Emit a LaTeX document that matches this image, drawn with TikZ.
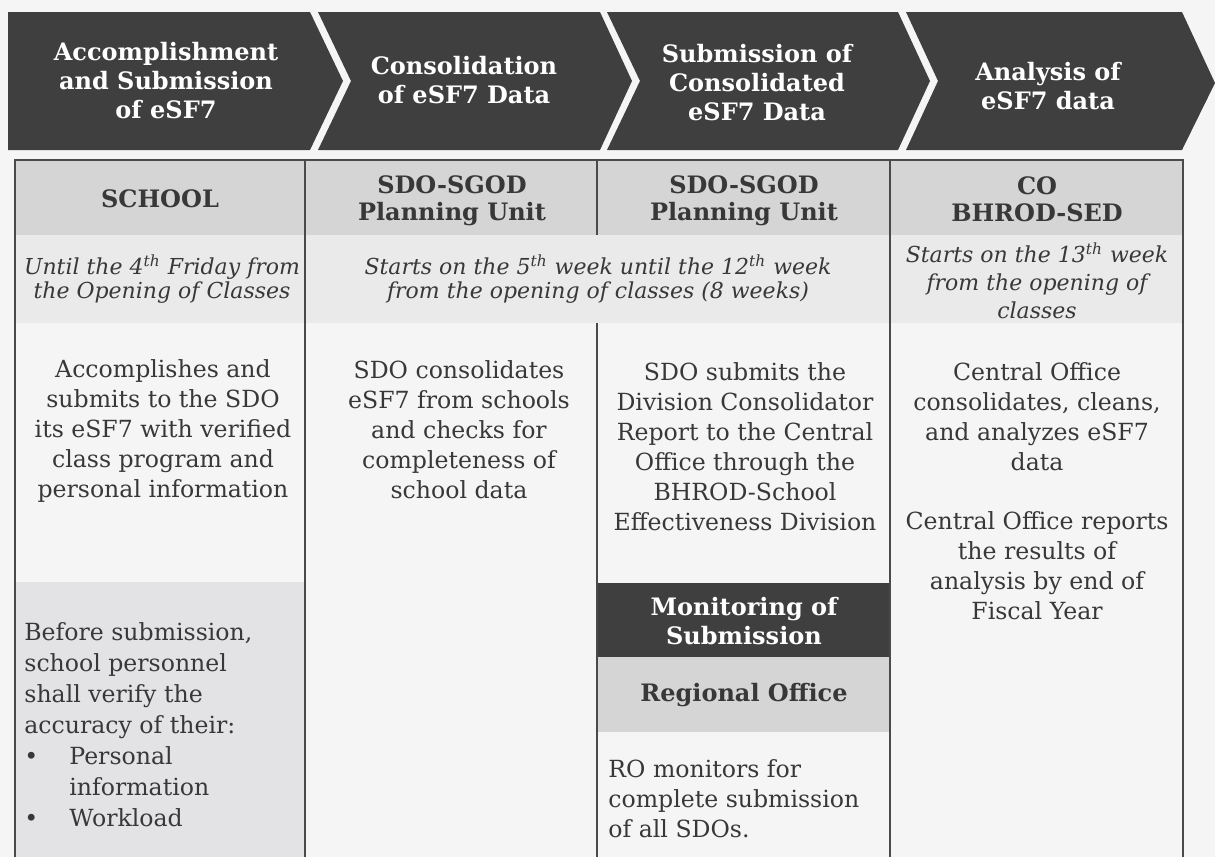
\documentclass[tikz,border=0pt]{standalone}
\usepackage{fontspec}
\setmainfont{DejaVu Serif}
\usepackage{xcolor}
\usepackage{tikz}

\definecolor{chevgray}{HTML}{3F3F3F}
\definecolor{headgray}{HTML}{D5D5D5}
\definecolor{rowgray}{HTML}{EAEAEA}
\definecolor{boxgray}{HTML}{E3E3E5}
\definecolor{inkgray}{HTML}{383838}
\definecolor{paper}{HTML}{F5F5F6}
\definecolor{rulegray}{HTML}{4A4A4A}

\begin{document}
\begin{tikzpicture}[x=0.5pt, y=-0.5pt,
  every node/.style={align=center, text=inkgray, inner sep=0pt,
    font=\fontsize{11.8}{15}\selectfont},
  chev/.style={fill=chevgray},
  chevtext/.style={text=white, font=\bfseries\fontsize{12}{14.5}\selectfont},
  unit/.style={font=\bfseries\fontsize{12}{13.5}\selectfont},
  when/.style={font=\itshape\fontsize{11}{12}\selectfont},
  leftbox/.style={align=left, anchor=north west},
  rule/.style={draw=rulegray, line width=1pt}
]
\useasboundingbox (0,0) rectangle (1215,857);
\fill[paper] (0,0) rectangle (1215,857);

% chevrons
\fill[chev] (8,12) -- (310,12) -- (343,81) -- (310,150) -- (8,150) -- cycle;
\fill[chev] (318,12) -- (600,12) -- (632,81) -- (600,150) -- (318,150) -- (351,81) -- cycle;
\fill[chev] (607,12) -- (898,12) -- (930,81) -- (898,150) -- (607,150) -- (640,81) -- cycle;
\fill[chev] (906,12) -- (1182,12) -- (1215,83) -- (1182,150) -- (906,150) -- (938,81) -- cycle;

\node[chevtext] (step1) at (166,81) {Accomplishment\\and Submission\\of eSF7};
\node[chevtext] (step2) at (464,80) {Consolidation\\of eSF7 Data};
\node[chevtext] (step3) at (757,83) {Submission of\\Consolidated\\eSF7 Data};
\node[chevtext] (step4) at (1048,86) {Analysis of\\eSF7 data};

% table shading
\fill[headgray] (15,160) rectangle (1183,235);
\fill[rowgray] (15,235) rectangle (1183,323);
\fill[boxgray] (15,582) rectangle (305,857);
\fill[chevgray] (597,583) rectangle (890,657);
\fill[headgray] (597,657) rectangle (890,732);

% table rules
\draw[rule] (15,857) -- (15,160) -- (1183,160) -- (1183,857);
\draw[rule] (305,160) -- (305,857);
\draw[rule] (597,160) -- (597,235);
\draw[rule] (597,323) -- (597,857);
\draw[rule] (890,160) -- (890,857);

% offices
\node[unit] (school) at (160,199) {SCHOOL};
\node[unit] (sdo1) at (452,201) {SDO-SGOD\\Planning Unit};
\node[unit] (sdo2) at (744,201) {SDO-SGOD\\Planning Unit};
\node[unit] (co) at (1037,199) {CO\\BHROD-SED};

% timelines
\node[when] (when1) at (162,279) {Until the 4\textsuperscript{th} Friday from\\the Opening of Classes};
\node[when] (when2) at (598,279) {Starts on the 5\textsuperscript{th} week until the 12\textsuperscript{th} week\\from the opening of classes (8 weeks)};
\node[when, font=\itshape\fontsize{11}{14}\selectfont] (when3) at (1037,281) {Starts on the 13\textsuperscript{th} week\\from the opening of\\classes};

% tasks
\node (task1) at (163,431) {Accomplishes and\\submits to the SDO\\its eSF7 with verified\\class program and\\personal information};
\node (task2) at (459,430) {SDO consolidates\\eSF7 from schools\\and checks for\\completeness of\\school data};
\node (task3) at (745,447) {SDO submits the\\Division Consolidator\\Report to the Central\\Office through the\\BHROD-School\\Effectiveness Division};
\node (task4) at (1037,417) {Central Office\\consolidates, cleans,\\and analyzes eSF7\\data};
\node (report) at (1037,566) {Central Office reports\\the results of\\analysis by end of\\Fiscal Year};

\node[leftbox, font=\fontsize{11.8}{15.5}\selectfont] (verify) at (24,622) {Before submission,\\school personnel\\shall verify the\\accuracy of their:\\
  \makebox[22.5pt][l]{\textbullet}Personal\\
  \hspace*{22.5pt}information\\
  \makebox[22.5pt][l]{\textbullet}Workload};

% monitoring
\node[chevtext] (monitor) at (744,621) {Monitoring of\\Submission};
\node[unit] (region) at (744,695) {Regional Office};
\node[leftbox] (ro) at (608,759) {RO monitors for\\complete submission\\of all SDOs.};
\end{tikzpicture}
\end{document}
